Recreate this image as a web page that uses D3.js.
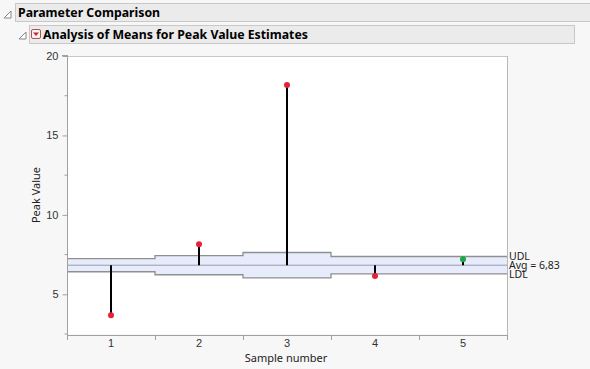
<!DOCTYPE html>
<html><head><meta charset="utf-8">
<script src="https://cdn.jsdelivr.net/npm/d3@7/dist/d3.min.js"></script>
<style>
html,body{margin:0;padding:0;background:#f7f7f7;}
svg{display:block;font-family:"Noto Sans","Open Sans",sans-serif;}
</style></head><body>
<svg id="c" width="590" height="369"></svg>
<script>
const categories = ["1","2","3","4","5"];
const peakValues = [3.68, 8.15, 18.17, 6.15, 7.2];
const udl = [7.24, 7.43, 7.63, 7.38, 7.38];
const ldl = [6.42, 6.23, 6.03, 6.28, 6.28];
const avg = 6.83;
const yTicks = [5, 10, 15, 20];
const yMinor = [2.5, 7.5, 12.5, 17.5];

const svg = d3.select("#c");
const L = 67, R = 507, T = 56, B = 334;

// headers
svg.append("rect").attr("x",15.5).attr("y",3.5).attr("width",580).attr("height",18).attr("fill","#ebebeb").attr("stroke","#c8c8c8");
svg.append("path").attr("d","M4,18 L11,11 L11,18 Z").attr("fill","#fff").attr("stroke","#888").attr("stroke-width",1);
svg.append("text").attr("x",18).attr("y",17).attr("font-size",12.3).attr("font-weight","bold").attr("fill","#000").text("Parameter Comparison");
svg.append("rect").attr("x",29.5).attr("y",25.5).attr("width",545).attr("height",18).attr("fill","#ebebeb").attr("stroke","#c8c8c8");
svg.append("path").attr("d","M19,39 L26,32 L26,39 Z").attr("fill","#fff").attr("stroke","#888").attr("stroke-width",1);
svg.append("rect").attr("x",31.5).attr("y",29.5).attr("width",9).attr("height",9).attr("rx",1.5).attr("fill","#f4f4f4").attr("stroke","#b05050");
svg.append("path").attr("d","M33,32.5 L39,32.5 L36,36 Z").attr("fill","#d0202a");
svg.append("text").attr("x",43).attr("y",39).attr("font-size",12.3).attr("font-weight","bold").attr("fill","#000").text("Analysis of Means for Peak Value Estimates");

const x = d3.scaleBand().domain(categories).range([L,R]);
const y = d3.scaleLinear().domain([2.5,20]).range([B,T]);

svg.append("rect").attr("x",L).attr("y",T).attr("width",R-L).attr("height",B-T).attr("fill","#fff");

// limits band (step)
const pts = [];
categories.forEach((c,i)=>{pts.push([x(c),i]);pts.push([x(c)+x.bandwidth(),i]);});
const area = d3.area().x(d=>d[0]).y0(d=>y(ldl[d[1]])).y1(d=>y(udl[d[1]]));
svg.append("path").attr("d",area(pts)).attr("fill","#e6ecfb");
function stepPath(arr){
  let p="";
  categories.forEach((c,i)=>{
    const x0=x(c), x1=x(c)+x.bandwidth(), yy=y(arr[i]);
    p += (i===0?"M":"L")+x0+","+yy+"L"+x1+","+yy;
  });
  return p;
}
svg.append("path").attr("d",stepPath(udl)).attr("fill","none").attr("stroke","#8f8f8f").attr("stroke-width",1.3);
svg.append("path").attr("d",stepPath(ldl)).attr("fill","none").attr("stroke","#8f8f8f").attr("stroke-width",1.3);
svg.append("line").attr("x1",L).attr("x2",R).attr("y1",y(avg)).attr("y2",y(avg)).attr("stroke","#9a9aa8").attr("stroke-width",1);

// needles
svg.selectAll(".needle").data(peakValues).enter().append("line")
  .attr("x1",(d,i)=>x(categories[i])+x.bandwidth()/2).attr("x2",(d,i)=>x(categories[i])+x.bandwidth()/2)
  .attr("y1",y(avg)).attr("y2",d=>y(d)).attr("stroke","#000").attr("stroke-width",2);
svg.selectAll(".pt").data(peakValues).enter().append("circle")
  .attr("cx",(d,i)=>x(categories[i])+x.bandwidth()/2).attr("cy",d=>y(d)).attr("r",3)
  .attr("fill",(d,i)=>(d>udl[i]||d<ldl[i])?"#e8203a":"#1aa845");

// frame top/right
svg.append("line").attr("x1",L).attr("x2",R).attr("y1",T+0.5).attr("y2",T+0.5).attr("stroke","#c8c8c8");
svg.append("line").attr("x1",R+0.5).attr("x2",R+0.5).attr("y1",T).attr("y2",340).attr("stroke","#b8b8b8");

// y axis
const yAxis = svg.append("g").attr("transform",`translate(${L+0.5},0)`).call(d3.axisLeft(y).tickValues(yTicks).tickSize(5).tickSizeOuter(0));
yAxis.select(".domain").attr("stroke","#a0a0a0").attr("d",`M0,${T-1}V${B+6}`);
yAxis.selectAll(".tick line").attr("stroke","#a0a0a0");
yAxis.selectAll("text").attr("font-size",11).attr("fill","#333").attr("dx",-1);
svg.append("g").attr("transform",`translate(${L+0.5},0)`).selectAll("line").data(yMinor).enter().append("line")
  .attr("x1",-3).attr("x2",0).attr("y1",d=>y(d)).attr("y2",d=>y(d)).attr("stroke","#a0a0a0");
svg.append("line").attr("x1",L-5).attr("x2",L).attr("y1",T-0.5).attr("y2",T-0.5).attr("stroke","#a0a0a0");

// x axis
const xAxis = svg.append("g").attr("transform",`translate(0,${B+1.5})`).call(d3.axisBottom(x).tickSize(0).tickPadding(4));
xAxis.select(".domain").attr("stroke","#a0a0a0").attr("d",`M${L},0H${R}`);
xAxis.selectAll("text").attr("font-size",11).attr("fill","#333");
svg.append("g").selectAll("line").data(d3.range(6)).enter().append("line")
  .attr("x1",i=>L+0.5+i*x.bandwidth()).attr("x2",i=>L+0.5+i*x.bandwidth())
  .attr("y1",B+1).attr("y2",B+6).attr("stroke","#a0a0a0");

svg.append("text").attr("x",286).attr("y",362).attr("text-anchor","middle").attr("font-size",11).attr("fill","#222").text("Sample number");
svg.append("text").attr("transform",`translate(40,${(T+B)/2}) rotate(-90)`).attr("text-anchor","middle").attr("font-size",11).attr("fill","#222").text("Peak Value");

// right labels
const lastI = categories.length-1;
[["UDL",udl[lastI]],["Avg = 6,83",avg],["LDL",ldl[lastI]]].forEach(([t,v])=>{
  svg.append("text").attr("x",R+2).attr("y",y(v)).attr("dy","0.35em").attr("font-size",10.5).attr("fill","#222").text(t);
});
</script></body></html>
